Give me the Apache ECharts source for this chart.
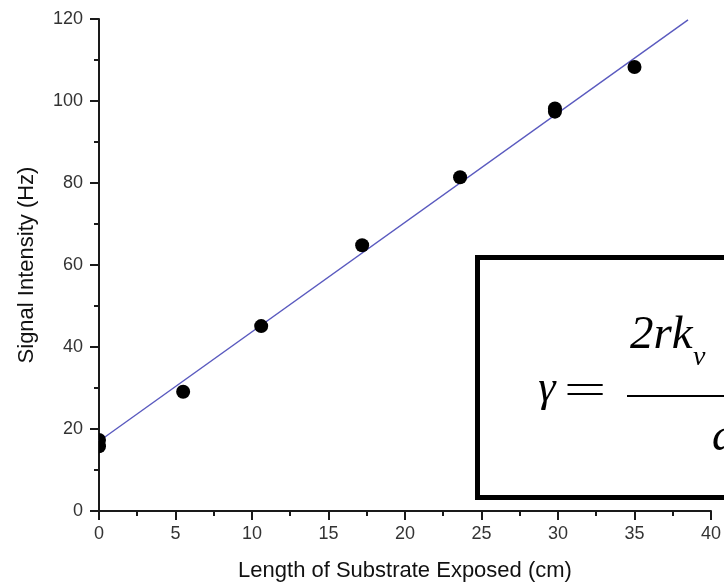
<!DOCTYPE html>
<html>
<head>
<meta charset="utf-8">
<script src="https://cdn.jsdelivr.net/npm/echarts@6/dist/echarts.min.js"></script>
<style>
  html, body { margin: 0; padding: 0; background: #fff; }
  #main { width: 724px; height: 587px; }
</style>
</head>
<body>
<div id="main"></div>
<script>
// measured points
const lengthCm = [0, 0, 5.5, 10.6, 17.2, 23.6, 29.8, 29.8, 35.0];
const signalHz = [17.3, 15.8, 29.1, 45.1, 64.8, 81.4, 98.2, 97.4, 108.3];
// linear fit, end points
const fitX = [0, 38.5];
const fitY = [17.0, 119.8];

const xTitle = 'Length of Substrate Exposed (cm)';
const yTitle = 'Signal Intensity (Hz)';

const axisColor = '#1a1a1a';
const sans = 'Liberation Sans, Arial, sans-serif';
const serif = 'Liberation Serif, Times New Roman, serif';

const chart = echarts.init(document.getElementById('main'));

function axisBase(min, max, interval) {
  return {
    type: 'value',
    min: min,
    max: max,
    interval: interval,
    nameLocation: 'middle',
    nameTextStyle: { fontSize: 22, color: '#111', fontFamily: sans },
    axisLine: { show: true, onZero: false, lineStyle: { color: axisColor, width: 2 } },
    axisTick: { show: true, length: 9, lineStyle: { color: axisColor, width: 2 } },
    minorTick: { show: true, splitNumber: 2, length: 5, lineStyle: { color: axisColor, width: 2 } },
    splitLine: { show: false },
    axisLabel: { fontSize: 18, color: '#333', fontFamily: sans }
  };
}

const xAxis = axisBase(0, 40, 5);
xAxis.name = xTitle;
xAxis.nameGap = 49;
xAxis.axisLabel.margin = 14;

const yAxis = axisBase(0, 120, 20);
yAxis.name = yTitle;
yAxis.nameGap = 61;
yAxis.axisLabel.margin = 16;

// dots drawn with a custom series so they get cut at the axis like the original
function renderDot(params, api) {
  const p = api.coord([api.value(0), api.value(1)]);
  return {
    type: 'circle',
    shape: { cx: p[0], cy: p[1], r: 7 },
    style: { fill: '#000' }
  };
}

const option = {
  backgroundColor: '#fff',
  animation: false,
  grid: { left: 99, right: 13, top: 19, bottom: 72 },
  xAxis: xAxis,
  yAxis: yAxis,
  series: [
    {
      type: 'line',
      data: fitX.map((x, i) => [x, fitY[i]]),
      showSymbol: false,
      lineStyle: { color: '#5a5abf', width: 1.4 },
      z: 1
    },
    {
      type: 'custom',
      clip: true,
      renderItem: renderDot,
      data: lengthCm.map((x, i) => [x, signalHz[i]]),
      z: 3
    }
  ],
  graphic: [
    {
      type: 'rect',
      z: 100,
      shape: { x: 477.5, y: 257.5, width: 270, height: 240 },
      style: { fill: '#fff', stroke: '#000', lineWidth: 5 }
    },
    {
      type: 'text', z: 101,
      style: { text: 'γ', x: 547, y: 389, font: 'italic 44px ' + serif, fill: '#000', align: 'center', verticalAlign: 'middle' }
    },
    {
      type: 'text', z: 101, x: 585, y: 392, scaleX: 1.8,
      style: { text: '=', x: 0, y: 0, font: '42px ' + serif, fill: '#000', align: 'center', verticalAlign: 'middle' }
    },
    {
      type: 'text', z: 101,
      style: { text: '2rk', x: 630, y: 336, font: 'italic 47px ' + serif, fill: '#000', align: 'left', verticalAlign: 'middle' }
    },
    {
      type: 'text', z: 101,
      style: { text: 'v', x: 693, y: 358, font: 'italic 28px ' + serif, fill: '#000', align: 'left', verticalAlign: 'middle' }
    },
    {
      type: 'line', z: 101,
      shape: { x1: 627, y1: 396, x2: 740, y2: 396 },
      style: { stroke: '#000', lineWidth: 2 }
    },
    {
      type: 'text', z: 101,
      style: { text: 'd', x: 712, y: 438, font: 'italic 46px ' + serif, fill: '#000', align: 'left', verticalAlign: 'middle' }
    }
  ]
};

chart.setOption(option);
</script>
</body>
</html>
